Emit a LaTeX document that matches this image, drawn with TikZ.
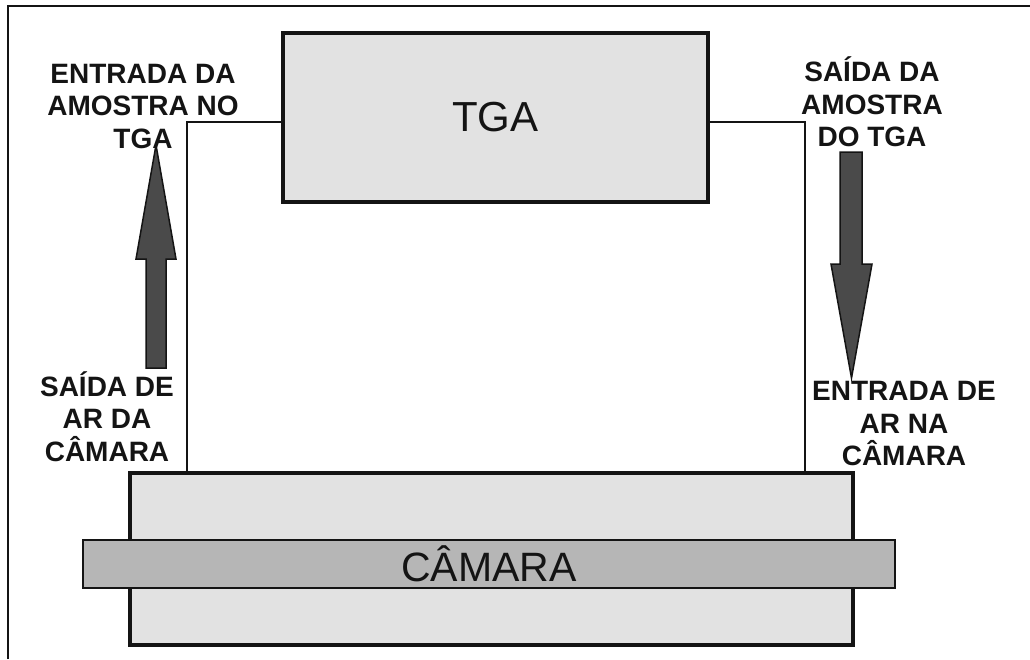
\documentclass[tikz,border=0pt]{standalone}
\usepackage{fontspec}
\setmainfont{Liberation Sans}
\usetikzlibrary{positioning}
\definecolor{boxgray}{HTML}{E2E2E2}
\definecolor{bandgray}{HTML}{B6B6B6}
\definecolor{arrowgray}{HTML}{4A4A4A}
\definecolor{inkgray}{HTML}{141414}

\begin{document}
\begin{tikzpicture}[x=1pt,y=-1pt,
    unitbox/.style={draw=inkgray,line width=3.5pt,fill=boxgray,inner sep=0pt,text=inkgray},
    pipe/.style={draw=inkgray,line width=2pt},
    flowarrow/.style={draw=inkgray,line width=1.5pt,fill=arrowgray,line join=miter},
    tag/.style={align=center,font=\fontsize{28}{32.5}\selectfont\bfseries,text=inkgray,inner sep=0pt}]
    \useasboundingbox (0,0) rectangle (1030,659);
    \draw[line width=2pt,inkgray] (8,659) -- (8,6) -- (1030,6);
    % units
    \node[unitbox,minimum width=425,minimum height=169,font=\fontsize{42}{48}\selectfont] (tga) at (495.5,117.5) {TGA};
    \node[unitbox,minimum width=723,minimum height=172] (chamber) at (491.5,559) {};
    \node[unitbox,line width=2pt,fill=bandgray,minimum width=812,minimum height=48,font=\fontsize{41}{46}\selectfont] (band) at (489,564) {CÂMARA};
    % pipes
    \draw[pipe] ([yshift=-91pt]tga.north west) -| ([xshift=59pt]chamber.north west);
    \draw[pipe] ([yshift=-91pt]tga.north east) -| ([xshift=-50pt]chamber.north east);
    % flow arrows
    \draw[flowarrow] (146,368) -- (146,259) -- (136,259) -- (156,145) -- (176,259) -- (166,259) -- (166,368) -- cycle;
    \draw[flowarrow] (840,152) -- (840,264) -- (831,264) -- (851.5,378) -- (872,264) -- (862,264) -- (862,152) -- cycle;
    % labels
    \node[tag] (inlet) at (143,106.5) {ENTRADA DA\\AMOSTRA NO\\TGA};
    \node[tag] (outlet) at (872,102) {SAÍDA DA\\AMOSTRA\\DO TGA};
    \node[tag] (airout) at (107,416.5) {SAÍDA DE\\AR DA\\CÂMARA};
    \node[tag] (airin) at (904,423.5) {ENTRADA DE\\AR NA\\CÂMARA};
\end{tikzpicture}
\end{document}
